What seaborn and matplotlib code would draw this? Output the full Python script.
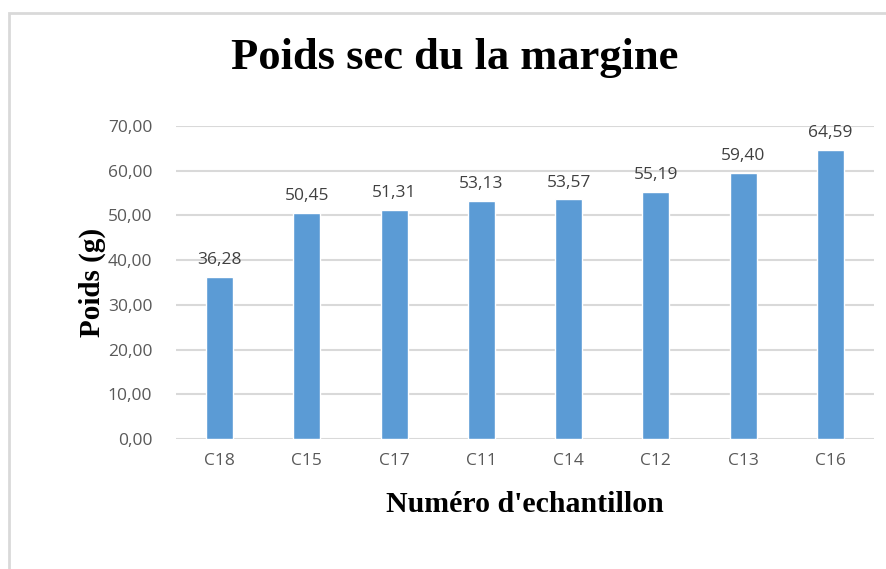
import matplotlib as mpl
import matplotlib.pyplot as plt
import seaborn as sns
import pandas as pd
from matplotlib.patches import Rectangle

echantillons = ["C18", "C15", "C17", "C11", "C14", "C12", "C13", "C16"]
poids = [36.28, 50.45, 51.31, 53.13, 53.57, 55.19, 59.40, 64.59]
yticks = [0, 10, 20, 30, 40, 50, 60, 70]

sns.set_style("white")
mpl.rcParams["font.family"] = ["Open Sans", "DejaVu Sans"]

df = pd.DataFrame({"ech": echantillons, "poids": poids})

fig = plt.figure(figsize=(8.87, 5.69), dpi=100)
ax = fig.add_axes([176 / 887, 1 - 439 / 569, (874 - 176) / 887, (439 - 126) / 569])

sns.barplot(data=df, x="ech", y="poids", color="#5B9BD5", width=0.31,
            saturation=1, ax=ax, zorder=3)

ax.set_ylim(0, 70)
ax.set_yticks(yticks)
ax.set_yticklabels(["{:.2f}".format(v).replace(".", ",") for v in yticks])
ax.grid(axis="y", color="#d9d9d9", lw=1.5, zorder=0)
ax.set_axisbelow(True)
for s in ax.spines.values():
    s.set_visible(False)
ax.tick_params(axis="both", length=0, colors="#595959", labelsize=12.5)
ax.tick_params(axis="y", pad=17)
ax.tick_params(axis="x", pad=10)

for i, v in enumerate(poids):
    ax.text(i, v + 2.0, "{:.2f}".format(v).replace(".", ","), ha="center",
            va="bottom", fontsize=12.5, color="#404040")

serif = ["Liberation Serif", "DejaVu Serif"]
ax.set_xlabel("Numéro d'echantillon", family=serif, fontsize=21.5,
              fontweight="bold", labelpad=16, color="black")
ax.set_ylabel("Poids (g)", family=serif, fontsize=21, fontweight="bold",
              labelpad=1, color="black")
fig.text(455 / 887, 1 - 58 / 569, "Poids sec du la margine", family=serif,
         fontsize=32, fontweight="bold", ha="center", va="center",
         color="black")

fig.patches.append(Rectangle((9 / 887, -0.1), 1.2, 1 - 13 / 569 + 0.1,
                             transform=fig.transFigure, fill=False,
                             edgecolor="#d9d9d9", lw=2))

fig.savefig("out.png", dpi=100)
